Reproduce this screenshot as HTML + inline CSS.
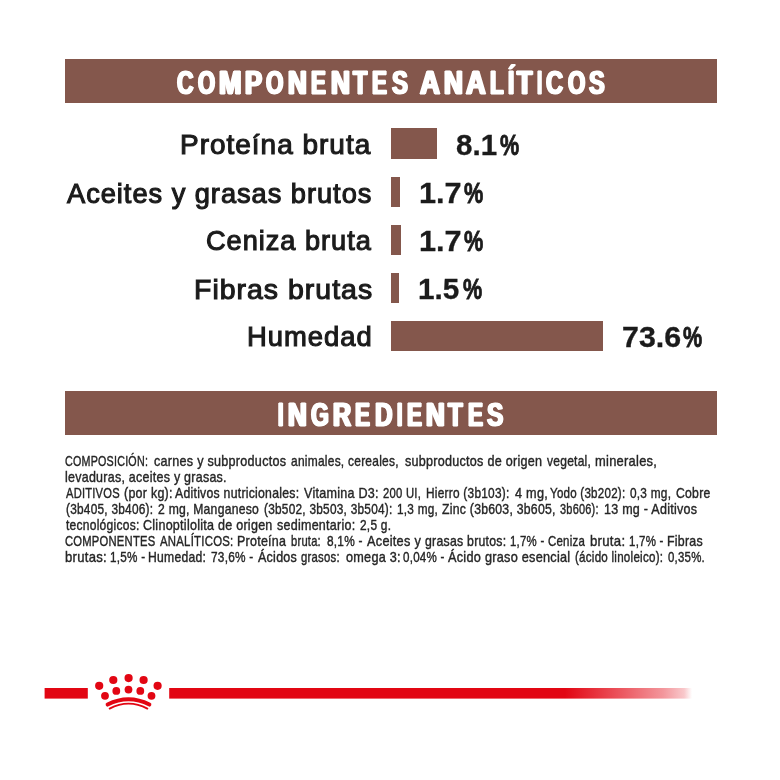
<!DOCTYPE html>
<html lang="es"><head><meta charset="utf-8"><title>Componentes analíticos e ingredientes</title>
<style>
html,body{margin:0;padding:0;background:#fff}
body{width:780px;height:780px;position:relative;overflow:hidden;font-family:"Liberation Sans",sans-serif}
#sheet{position:absolute;left:0;top:0;width:780px;height:780px;background:#fff;filter:blur(0.4px)}
h2,p{margin:0;padding:0}
.hd,.val,.pl{position:absolute;box-sizing:border-box;font-size:0;line-height:0;letter-spacing:0;white-space:nowrap}
.val,.pl{left:0;width:780px}
span{display:inline-block;width:0;vertical-align:baseline;white-space:nowrap;transform-origin:0 0}
.hd{background:#84574c;font-weight:700;color:#fff;-webkit-text-stroke:1.2px #fff;text-shadow:1.5px 0 0 #fff,-1.5px 0 0 #fff}
.hd span{font-size:33.0px;line-height:33.0px}
.bar{position:absolute;background:#84574c}
.lab{position:absolute;white-space:nowrap;transform-origin:0 0;font-size:28.0px;line-height:28.0px;font-weight:400;color:#1b1b1b;-webkit-text-stroke:1.1px #1b1b1b;letter-spacing:1.0px}
.val{font-weight:700;color:#1b1b1b;-webkit-text-stroke:0.3px #1b1b1b}
.val span{font-size:29.6px;line-height:29.6px}
.val .pc{-webkit-text-stroke:0.9px #1b1b1b}
.pl{font-weight:400;color:#262626;-webkit-text-stroke:0.4px #262626}
.pl span{font-size:14.5px;line-height:14.5px;letter-spacing:0.3px}
</style></head><body>
<main id="sheet">
<section>
<h2 class="hd" aria-label="COMPONENTES ANALÍTICOS" style="left:65px;top:59.1px;width:651.5px;height:44.3px;padding-top:6.90px"><span style="margin-left:112.44px;transform:scaleX(0.6939)">C</span><span style="margin-left:20.47px;transform:scaleX(0.6662)">O</span><span style="margin-left:21.32px;transform:scaleX(0.8167)">M</span><span style="margin-left:26.10px;transform:scaleX(0.7733)">P</span><span style="margin-left:20.69px;transform:scaleX(0.6770)">O</span><span style="margin-left:22.01px;transform:scaleX(0.7859)">N</span><span style="margin-left:23.30px;transform:scaleX(0.6745)">E</span><span style="margin-left:19.50px;transform:scaleX(0.7943)">N</span><span style="margin-left:22.66px;transform:scaleX(0.7075)">T</span><span style="margin-left:19.04px;transform:scaleX(0.6787)">E</span><span style="margin-left:19.92px;transform:scaleX(0.7210)">S</span> <span style="margin-left:27.18px;transform:scaleX(0.8368)">A</span><span style="margin-left:24.10px;transform:scaleX(0.7901)">N</span><span style="margin-left:22.08px;transform:scaleX(0.8257)">A</span><span style="margin-left:24.52px;transform:scaleX(0.6764)">L</span><span style="margin-left:17.65px;transform:scaleX(0.6787)">Í</span><span style="margin-left:9.41px;transform:scaleX(0.7569)">T</span><span style="margin-left:19.83px;transform:scaleX(0.5665)">I</span><span style="margin-left:9.34px;transform:scaleX(0.7167)">C</span><span style="margin-left:21.15px;transform:scaleX(0.6734)">O</span><span style="margin-left:21.71px;transform:scaleX(0.7130)">S</span></h2>
<div class="row"><div class="lab" style="left:180.46px;top:131px;transform:scaleX(0.9987)">Proteína bruta</div><div class="bar" style="left:391.2px;top:128.3px;width:46.2px;height:30.7px"></div><div class="val" style="top:130px"><span style="margin-left:455.73px;transform:scaleX(0.9978)">8.1</span><span class="pc" style="margin-left:44.66px;transform:scaleX(0.7290)">%</span></div></div>
<div class="row"><div class="lab" style="left:67.33px;top:180px;transform:scaleX(0.9724)">Aceites y grasas brutos</div><div class="bar" style="left:391.2px;top:176.9px;width:9.3px;height:30.1px"></div><div class="val" style="top:178px"><span style="margin-left:418.84px;transform:scaleX(1.0365)">1.7</span><span class="pc" style="margin-left:44.95px;transform:scaleX(0.7328)">%</span></div></div>
<div class="row"><div class="lab" style="left:205.96px;top:227px;transform:scaleX(0.9710)">Ceniza bruta</div><div class="bar" style="left:391.2px;top:224.6px;width:9.4px;height:30.2px"></div><div class="val" style="top:226px"><span style="margin-left:418.84px;transform:scaleX(1.0365)">1.7</span><span class="pc" style="margin-left:44.95px;transform:scaleX(0.7328)">%</span></div></div>
<div class="row"><div class="lab" style="left:193.94px;top:276px;transform:scaleX(1.0154)">Fibras brutas</div><div class="bar" style="left:391.2px;top:272.9px;width:8.2px;height:30.6px"></div><div class="val" style="top:274px"><span style="margin-left:418.49px;transform:scaleX(1.0036)">1.5</span><span class="pc" style="margin-left:44.10px;transform:scaleX(0.7290)">%</span></div></div>
<div class="row"><div class="lab" style="left:246.90px;top:323px;transform:scaleX(0.9788)">Humedad</div><div class="bar" style="left:391.2px;top:321.2px;width:211.9px;height:30.2px"></div><div class="val" style="top:322px"><span style="margin-left:621.90px;transform:scaleX(1.0258)">73.6</span><span class="pc" style="margin-left:61.39px;transform:scaleX(0.7290)">%</span></div></div>
</section>
<section>
<h2 class="hd" aria-label="INGREDIENTES" style="left:65px;top:391.2px;width:651.5px;height:44.2px;padding-top:6.80px"><span style="margin-left:213.32px;transform:scaleX(0.5878)">I</span><span style="margin-left:9.71px;transform:scaleX(0.7859)">N</span><span style="margin-left:22.71px;transform:scaleX(0.6955)">G</span><span style="margin-left:21.79px;transform:scaleX(0.7577)">R</span><span style="margin-left:22.50px;transform:scaleX(0.6787)">E</span><span style="margin-left:19.70px;transform:scaleX(0.7372)">D</span><span style="margin-left:21.99px;transform:scaleX(0.5878)">I</span><span style="margin-left:10.00px;transform:scaleX(0.6787)">E</span><span style="margin-left:19.60px;transform:scaleX(0.7859)">N</span><span style="margin-left:22.20px;transform:scaleX(0.7281)">T</span><span style="margin-left:19.30px;transform:scaleX(0.6830)">E</span><span style="margin-left:19.65px;transform:scaleX(0.7412)">S</span></h2>
<p class="pl" style="top:454px"><span style="margin-left:65.45px;transform:scaleX(0.7396)">COMPOSICIÓN:</span> <span style="margin-left:88.53px;transform:scaleX(0.8693)">carnes y subproductos</span> <span style="margin-left:137.51px;transform:scaleX(0.8252)">animales, cereales,</span> <span style="margin-left:113.79px;transform:scaleX(0.8676)">subproductos de origen</span> <span style="margin-left:141.59px;transform:scaleX(0.8295)">vegetal,</span> <span style="margin-left:47.81px;transform:scaleX(0.8898)">minerales,</span></p>
<p class="pl" style="top:470px"><span style="margin-left:65.19px;transform:scaleX(0.8602)">levaduras, aceites y grasas.</span></p>
<p class="pl" style="top:486px"><span style="margin-left:65.95px;transform:scaleX(0.7676)">ADITIVOS</span> <span style="margin-left:57.83px;transform:scaleX(0.8596)">(por kg):</span> <span style="margin-left:51.38px;transform:scaleX(0.8450)">Aditivos nutricionales:</span> <span style="margin-left:128.70px;transform:scaleX(0.8669)">Vitamina D3:</span> <span style="margin-left:79.05px;transform:scaleX(0.7778)">200 UI,</span> <span style="margin-left:43.01px;transform:scaleX(0.8187)">Hierro (3b103):</span> <span style="margin-left:88.74px;transform:scaleX(0.8754)">4 mg,</span> <span style="margin-left:35.30px;transform:scaleX(0.7976)">Yodo (3b202):</span> <span style="margin-left:79.81px;transform:scaleX(0.8160)">0,3 mg,</span> <span style="margin-left:46.10px;transform:scaleX(0.8412)">Cobre</span></p>
<p class="pl" style="top:502px"><span style="margin-left:66.31px;transform:scaleX(0.8172)">(3b405, 3b406):</span> <span style="margin-left:91.59px;transform:scaleX(0.8375)">2 mg, Manganeso</span> <span style="margin-left:106.41px;transform:scaleX(0.8169)">(3b502, 3b503, 3b504):</span> <span style="margin-left:133.12px;transform:scaleX(0.8133)">1,3 mg,</span> <span style="margin-left:44.86px;transform:scaleX(0.8443)">Zinc (3b603, 3b605,</span> <span style="margin-left:117.52px;transform:scaleX(0.7558)">3b606):</span> <span style="margin-left:43.78px;transform:scaleX(0.8633)">13 mg - Aditivos</span></p>
<p class="pl" style="top:518px"><span style="margin-left:65.97px;transform:scaleX(0.8302)">tecnológicos:</span> <span style="margin-left:76.92px;transform:scaleX(0.8648)">Clinoptilolita de origen</span> <span style="margin-left:134.59px;transform:scaleX(0.8625)">sedimentario:</span> <span style="margin-left:82.13px;transform:scaleX(0.8207)">2,5 g.</span></p>
<p class="pl" style="top:534px"><span style="margin-left:65.43px;transform:scaleX(0.7735)">COMPONENTES</span> <span style="margin-left:94.73px;transform:scaleX(0.7852)">ANALÍTICOS:</span> <span style="margin-left:77.34px;transform:scaleX(0.8601)">Proteína</span> <span style="margin-left:53.96px;transform:scaleX(0.7698)">bruta:</span> <span style="margin-left:35.84px;transform:scaleX(0.8172)">8,1% -</span> <span style="margin-left:39.58px;transform:scaleX(0.8778)">Aceites y</span> <span style="margin-left:57.91px;transform:scaleX(0.8473)">grasas brutos:</span> <span style="margin-left:85.46px;transform:scaleX(0.7882)">1,7% -</span> <span style="margin-left:37.68px;transform:scaleX(0.7901)">Ceniza</span> <span style="margin-left:42.24px;transform:scaleX(0.9085)">bruta:</span> <span style="margin-left:38.98px;transform:scaleX(0.7929)">1,7% -</span> <span style="margin-left:37.56px;transform:scaleX(0.8547)">Fibras</span></p>
<p class="pl" style="top:550px"><span style="margin-left:65.16px;transform:scaleX(0.9027)">brutas:</span> <span style="margin-left:45.07px;transform:scaleX(0.8070)">1,5% -</span> <span style="margin-left:38.19px;transform:scaleX(0.8379)">Humedad:</span> <span style="margin-left:62.89px;transform:scaleX(0.8162)">73,6% -</span> <span style="margin-left:46.36px;transform:scaleX(0.8628)">Ácidos</span> <span style="margin-left:43.83px;transform:scaleX(0.7815)">grasos:</span> <span style="margin-left:44.08px;transform:scaleX(0.8726)">omega 3:</span> <span style="margin-left:57.52px;transform:scaleX(0.7989)">0,04% -</span> <span style="margin-left:45.38px;transform:scaleX(0.8759)">Ácido graso esencial</span> <span style="margin-left:126.94px;transform:scaleX(0.8007)">(ácido linoleico):</span> <span style="margin-left:92.68px;transform:scaleX(0.7884)">0,35%.</span></p>
</section>
<svg style="position:absolute;left:0;top:660px" width="780" height="60" viewBox="0 660 780 60">
<defs><linearGradient id="fade" gradientUnits="userSpaceOnUse" x1="169" y1="0" x2="692" y2="0">
<stop offset="0" stop-color="#e20613"/><stop offset="0.757" stop-color="#e20613"/><stop offset="0.87" stop-color="#e20613" stop-opacity="0.66"/><stop offset="0.945" stop-color="#e20613" stop-opacity="0.42"/><stop offset="0.985" stop-color="#e20613" stop-opacity="0.22"/><stop offset="1" stop-color="#e20613" stop-opacity="0"/></linearGradient></defs>
<rect x="44.6" y="688" width="43.2" height="10.6" fill="#e20613"/>
<rect x="169.2" y="688" width="523" height="10.6" fill="url(#fade)"/>
<g fill="#e20613">
<circle cx="99.2" cy="685.8" r="4.1"/><circle cx="113.3" cy="680" r="4.1"/><circle cx="128.6" cy="678.1" r="4.1"/><circle cx="143.6" cy="680" r="4.1"/><circle cx="157.6" cy="685.8" r="4.1"/>
<circle cx="105" cy="695.8" r="3.9"/><circle cx="116.3" cy="690.9" r="3.9"/><circle cx="128.5" cy="689.6" r="3.9"/><circle cx="140.3" cy="690.9" r="3.9"/><circle cx="151.5" cy="695.8" r="3.9"/>
</g>
<path d="M107.6 704.6 Q128.5 694.0 149.4 704.6" fill="none" stroke="#e20613" stroke-width="3.9" stroke-linecap="round"/>
<path d="M109.6 708.6 Q128.5 698.6 147.4 708.6" fill="none" stroke="#e20613" stroke-width="1.8" stroke-linecap="round"/>
</svg>

</main>
</body></html>
